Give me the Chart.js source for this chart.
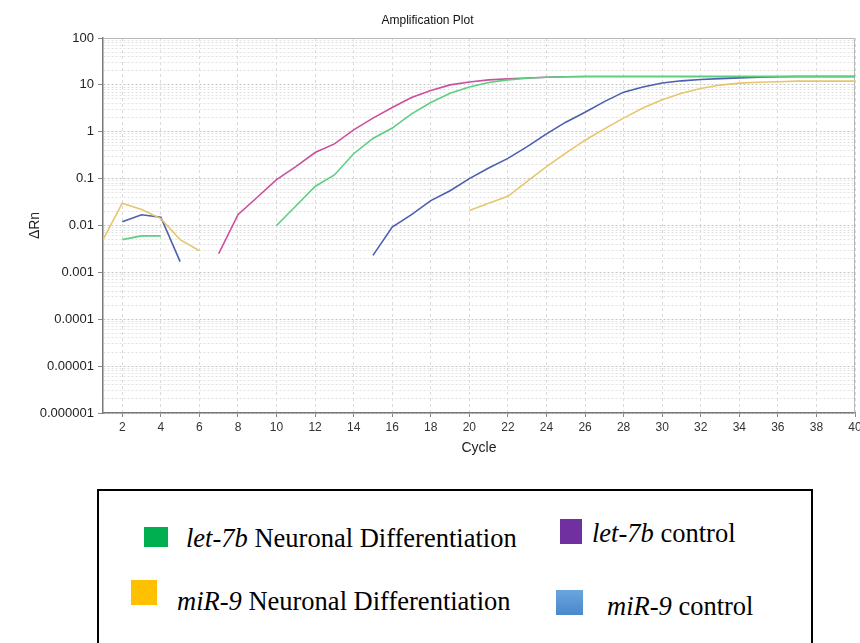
<!DOCTYPE html>
<html>
<head>
<meta charset="utf-8">
<script src="https://cdn.jsdelivr.net/npm/chart.js@4.4.1/dist/chart.umd.min.js"></script>
<style>
  body { margin: 0; background: #fff; width: 860px; height: 643px; overflow: hidden; position: relative; }
  #wrap { position: absolute; left: 0; top: 0; width: 860px; height: 470px; }
  #legend { position: absolute; left: 97px; top: 489px; width: 716px; height: 170px; border: 2px solid #000; box-sizing: border-box; background: #fff; }
  .item { position: absolute; font-family: "Liberation Serif", "Times New Roman", serif; font-size: 26.5px; color: #000; white-space: nowrap; line-height: 1; }
  .item i { font-style: italic; }
  .sw { position: absolute; }
</style>
</head>
<body>
<div id="wrap"><canvas id="myChart"></canvas></div>
<div id="legend">
  <div class="sw" style="left:45px;top:36px;width:24px;height:20px;background:#00b050"></div>
  <div class="item" style="left:87px;top:34px"><i>let-7b</i> Neuronal Differentiation</div>
  <div class="sw" style="left:461px;top:28px;width:22px;height:25px;background:#7030a0"></div>
  <div class="item" style="left:493px;top:29px"><i>let-7b</i> control</div>
  <div class="sw" style="left:32px;top:89px;width:26px;height:25px;background:#ffc000"></div>
  <div class="item" style="left:78px;top:97px"><i>miR-9</i> Neuronal Differentiation</div>
  <div class="sw" style="left:457px;top:99px;width:27px;height:25px;background:linear-gradient(#6aa5de,#4a88cc)"></div>
  <div class="item" style="left:508px;top:102px"><i>miR-9</i> control</div>
</div>
<script>
// cycle numbers (x values)
const cycles = [1, 2, 3, 4, 5, 6, 7, 8, 9, 10, 11, 12, 13, 14, 15, 16, 17, 18, 19, 20,
                21, 22, 23, 24, 25, 26, 27, 28, 29, 30, 31, 32, 33, 34, 35, 36, 37, 38, 39, 40];

// delta Rn per cycle, null where the software drew nothing
const let7bNeuronal = [null, 0.005, 0.006, 0.006, null, null, null, null, null, 0.01,
                       0.026, 0.068, 0.12, 0.34, 0.72, 1.2, 2.4, 4.2, 6.6, 9.0,
                       11.2, 12.8, 13.8, 14.5, 14.9, 15.1, 15.1, 15.1, 15.1, 15.1,
                       15.1, 15.1, 15.1, 15.1, 15.1, 15.1, 15.1, 15.1, 15.1, 15.1];
const let7bControl = [null, null, null, null, null, null, 0.0025, 0.017, 0.04, 0.095,
                      0.18, 0.36, 0.55, 1.1, 1.95, 3.3, 5.4, 7.6, 10.0, 11.5,
                      12.8, 13.4, 14.0, 14.5, 14.9, 15.1, 15.1, 15.1, 15.1, 15.1,
                      15.1, 15.1, 15.1, 15.1, 15.1, 15.1, 15.1, 15.1, 15.1, 15.1];
const miR9Neuronal = [0.005, 0.03, 0.022, 0.014, 0.005, 0.0029, null, null, null, null,
                      null, null, null, null, null, null, null, null, null, 0.021,
                      0.03, 0.042, 0.087, 0.18, 0.35, 0.66, 1.15, 1.95, 3.2, 4.8,
                      6.6, 8.4, 9.9, 10.9, 11.4, 11.7, 12.0, 12.0, 12.0, 12.0];
const miR9Control = [null, 0.012, 0.017, 0.015, 0.0017, null, null, null, null, null,
                     null, null, null, null, 0.0023, 0.0093, 0.017, 0.034, 0.055, 0.1,
                     0.168, 0.27, 0.48, 0.9, 1.6, 2.6, 4.4, 7.0, 9.0, 11.0,
                     12.2, 13.0, 13.6, 14.1, 14.6, 14.9, 15.1, 15.1, 15.1, 15.1];

// y axis tick labels (decades only)
const yTickValues = [100, 10, 1, 0.1, 0.01, 0.001, 0.0001, 0.00001, 0.000001];
const yTickLabels = ['100', '10', '1', '0.1', '0.01', '0.001', '0.0001', '0.00001', '0.000001'];

function pts(series) {
    return cycles.map((c, i) => ({ x: c, y: series[i] }));
}

function decadeIndex(v) {
    return yTickValues.findIndex(t => Math.abs(Math.log10(v) - Math.log10(t)) < 0.001);
}

function mantissa(v) {
    return v / Math.pow(10, Math.floor(Math.log10(v) + 1e-9));
}

// light frame on top and right of the plot
const framePlugin = {
    id: 'frame',
    beforeDatasetsDraw(chart) {
        const { ctx, chartArea: a } = chart;
        ctx.save();
        ctx.strokeStyle = '#b8b8b8';
        ctx.lineWidth = 1;
        ctx.beginPath();
        ctx.moveTo(a.left, a.top + 0.5);
        ctx.lineTo(a.right - 0.5, a.top + 0.5);
        ctx.lineTo(a.right - 0.5, a.bottom);
        ctx.stroke();
        ctx.restore();
    }
};

const ctx = document.getElementById('myChart').getContext('2d');
Chart.defaults.font.family = '"Liberation Sans", Arial, sans-serif';

new Chart(ctx, {
    type: 'line',
    data: {
        datasets: [
            { label: 'let-7b Neuronal Differentiation', data: pts(let7bNeuronal), borderColor: '#5ccf80' },
            { label: 'let-7b control', data: pts(let7bControl), borderColor: '#cc4f9f' },
            { label: 'miR-9 Neuronal Differentiation', data: pts(miR9Neuronal), borderColor: '#e6c66c' },
            { label: 'miR-9 control', data: pts(miR9Control), borderColor: '#4b5fae' }
        ]
    },
    options: {
        responsive: true,
        maintainAspectRatio: false,
        animation: false,
        spanGaps: false,
        elements: {
            point: { radius: 0 },
            line: { borderWidth: 1.6, tension: 0 }
        },
        layout: { padding: { left: 0, right: 5, top: 0, bottom: 0 } },
        plugins: {
            legend: { display: false },
            tooltip: { enabled: false },
            title: {
                display: true,
                text: 'Amplification Plot',
                color: '#111',
                font: { size: 12, weight: 'normal' },
                padding: { top: 13, bottom: 10.6 }
            }
        },
        scales: {
            x: {
                type: 'linear',
                min: 1,
                max: 40,
                afterFit: scale => { scale.height = 57; scale.paddingRight = 0; },
                ticks: {
                    stepSize: 2,
                    includeBounds: false,
                    maxRotation: 0,
                    autoSkip: false,
                    color: '#333',
                    padding: 3,
                    font: { size: 12, family: '"Liberation Sans Narrow", "Liberation Sans", Arial, sans-serif' }
                },
                grid: {
                    color: '#dadada',
                    tickColor: '#888',
                    tickLength: 4
                },
                border: { color: '#7a7a7a', width: 1.5, dash: [3, 3] },
                title: {
                    display: true,
                    text: 'Cycle',
                    color: '#222',
                    font: { size: 14 },
                    padding: { top: 0, bottom: 13 }
                }
            },
            y: {
                type: 'logarithmic',
                min: 0.000001,
                max: 100,
                afterFit: scale => { scale.width = 103; },
                ticks: {
                    autoSkip: false,
                    color: '#222',
                    padding: 4,
                    font: { size: 13 },
                    callback: value => {
                        const i = decadeIndex(value);
                        return i >= 0 ? yTickLabels[i] : '';
                    }
                },
                grid: {
                    color: c => {
                        const v = c.tick.value;
                        if (decadeIndex(v) >= 0) return '#c4c4c4';
                        if (Math.abs(mantissa(v) - 1.5) < 0.01) return 'transparent';
                        return '#e2e2e2';
                    },
                    tickColor: c => decadeIndex(c.tick.value) >= 0 ? '#888' : 'transparent',
                    tickLength: 5
                },
                border: { color: '#7a7a7a', width: 1.5, dash: [2, 2] },
                title: {
                    display: true,
                    text: 'ΔRn',
                    color: '#222',
                    font: { size: 14 },
                    padding: { top: 27, bottom: 0 }
                }
            }
        }
    },
    plugins: [framePlugin]
});
</script>
</body>
</html>
